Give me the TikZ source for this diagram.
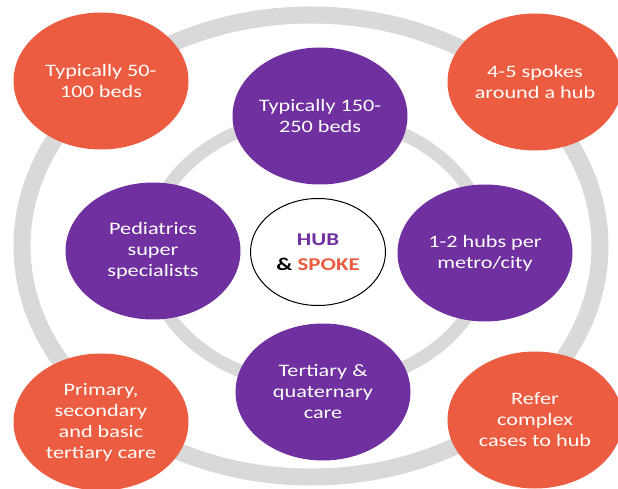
\documentclass[tikz,border=0pt]{standalone}
\usepackage{fontspec}
\setmainfont{Carlito}[FakeStretch=1.27]
\usepackage{tikz}
\usetikzlibrary{shapes,positioning}
\definecolor{spokeorange}{RGB}{236,92,64}
\definecolor{hubpurple}{RGB}{112,48,160}
\definecolor{ringgray}{RGB}{217,217,217}
\tikzset{
    bubble/.style={
        ellipse,
        align=center,
        inner sep=0pt,
        minimum width=175pt,
        minimum height=137pt,
        text=white,
        font=\fontsize{17.5}{21}\selectfont
    },
    spokebubble/.style={bubble, fill=spokeorange},
    hubbubble/.style={bubble, fill=hubpurple},
    corebubble/.style={
        ellipse,
        draw=black,
        line width=1pt,
        fill=white,
        align=center,
        inner sep=0pt,
        minimum width=135pt,
        minimum height=107pt,
        font=\fontsize{18}{25}\selectfont\bfseries
    },
    ringline/.style={draw=ringgray}
}

\begin{document}
\begin{tikzpicture}[x=1pt, y=1pt]
    \useasboundingbox (0,0) rectangle (618,488);
    % grey rings behind the bubbles
    \draw [ringline, line width=17pt] (311,242) ellipse [x radius=289, y radius=231];
    \draw [ringline, line width=13pt] (318,237) ellipse [x radius=170, y radius=135];

    % hub in the middle
    \node (core) [corebubble] at (318,236) {\textcolor{hubpurple}{HUB}\\\& \textcolor{spokeorange}{SPOKE}};

    % inner ring: hub facts
    \node (beds) [hubbubble] at (320,372) {Typically 150-\\250 beds};
    \node (peds) [hubbubble] at (153,237) {Pediatrics\\super\\specialists};
    \node (metro) [hubbubble] at (485,235) {1-2 hubs per\\metro/city};
    \node (care) [hubbubble] at (323,96) {Tertiary \&\\quaternary\\care};

    % outer ring: spoke facts
    \node (smallbeds) [spokebubble] at (101,407) {Typically 50-\\100 beds};
    \node (count) [spokebubble] at (535,406) {4-5 spokes\\around a hub};
    \node (primary) [spokebubble] at (101,66) {Primary,\\secondary\\and basic\\tertiary care};
    \node (refer) [spokebubble] at (535,68) {Refer\\complex\\cases to hub};
\end{tikzpicture}
\end{document}
